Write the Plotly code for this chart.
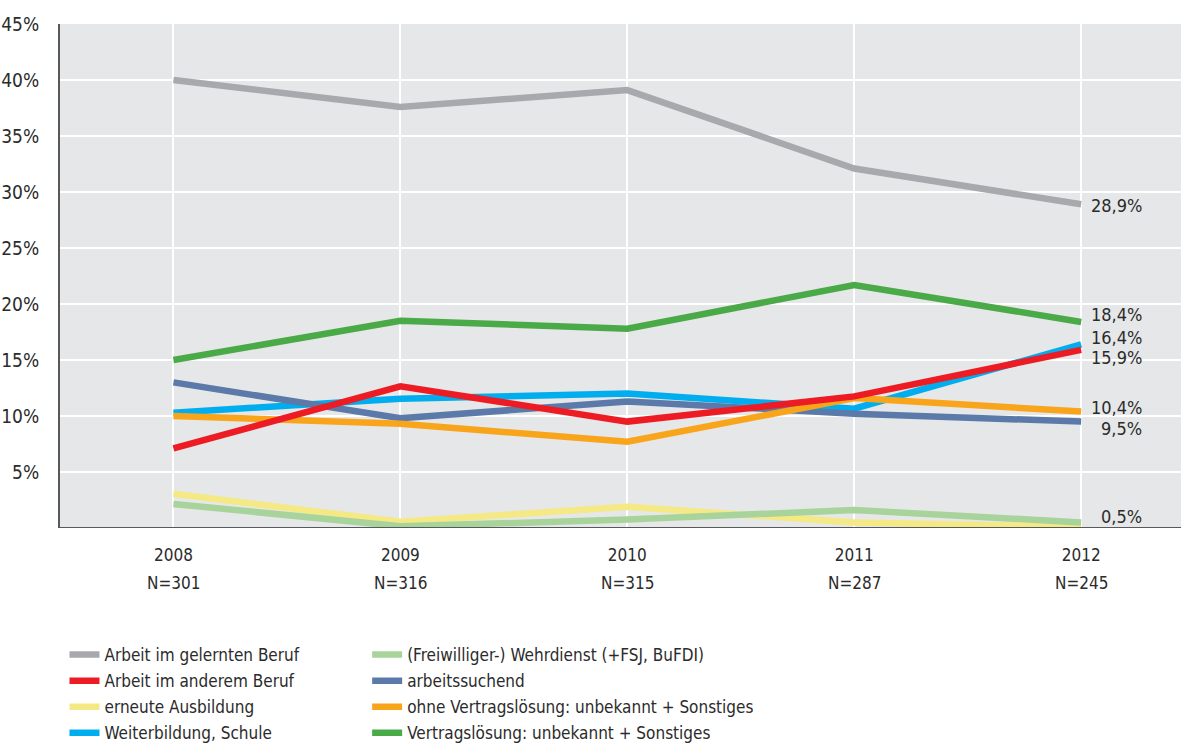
import plotly.graph_objects as go

years = ["2008", "2009", "2010", "2011", "2012"]
n_labels = ["N=301", "N=316", "N=315", "N=287", "N=245"]

s_gelernt = [40.0, 37.6, 39.1, 32.1, 28.9]
s_anderer = [7.1, 12.65, 9.5, 11.75, 15.9]
s_erneute = [3.05, 0.55, 1.9, 0.5, 0.1]
s_weiter = [10.3, 11.55, 12.0, 10.65, 16.4]
s_wehr = [2.15, 0.15, 0.75, 1.6, 0.5]
s_suchend = [13.0, 9.8, 11.3, 10.2, 9.5]
s_ohne = [10.0, 9.3, 7.7, 11.6, 10.4]
s_vertrag = [15.0, 18.5, 17.8, 21.7, 18.4]

names = [
    "Arbeit im gelernten Beruf",
    "Arbeit im anderem Beruf",
    "erneute Ausbildung",
    "Weiterbildung, Schule",
    "(Freiwilliger-) Wehrdienst (+FSJ, BuFDI)",
    "arbeitssuchend",
    "ohne Vertragslösung: unbekannt + Sonstiges",
    "Vertragslösung: unbekannt + Sonstiges",
]
series = [s_gelernt, s_anderer, s_erneute, s_weiter, s_wehr, s_suchend, s_ohne, s_vertrag]
colors = ["#a7a9ac", "#ed1c24", "#f4e985", "#00aeef", "#a8d39b", "#5b7aa9", "#f8a51c", "#49aa47"]
legends = ["legend", "legend", "legend", "legend", "legend2", "legend2", "legend2", "legend2"]

# drawing order (index into the lists above)
draw_order = [0, 2, 4, 3, 5, 6, 1, 7]

end_labels = ["28,9%", "18,4%", "16,4%", "15,9%", "10,4%", "9,5%", "0,5%"]
end_values = [28.9, 18.4, 16.4, 15.9, 10.4, 9.5, 0.5]
end_shift = [-1, 7, 7, -8, 4, -7, 6]

FONT = "DejaVu Sans Condensed, Liberation Sans Narrow, Arial Narrow, sans-serif"
TXT = "#2b2b2b"

fig = go.Figure()
xs = list(range(len(years)))
for i in draw_order:
    fig.add_trace(go.Scatter(
        x=xs, y=series[i], mode="lines", name=names[i],
        line=dict(color=colors[i], width=6.5),
        legend=legends[i], legendrank=i, legendgroup=names[i],
        hoverinfo="skip",
    ))

for t, v, s in zip(end_labels, end_values, end_shift):
    fig.add_annotation(x=4, y=v, xref="x", yref="y", text=t, showarrow=False,
                       xanchor="right", yanchor="middle", xshift=63, yshift=s,
                       font=dict(family=FONT, size=18, color=TXT))

for i, n in enumerate(n_labels):
    fig.add_annotation(x=i, y=0, xref="x", yref="y", text=n, showarrow=False,
                       xanchor="center", yanchor="middle", yshift=-55,
                       font=dict(family=FONT, size=17, color=TXT))

fig.update_layout(
    width=1181, height=745,
    margin=dict(l=60, r=0, t=24, b=217),
    paper_bgcolor="white",
    plot_bgcolor="#e6e7e8",
    font=dict(family=FONT, size=17, color=TXT),
    xaxis=dict(
        range=[-0.5, 4.44], tickvals=xs, ticktext=years,
        showgrid=True, gridcolor="white", gridwidth=2,
        zeroline=False, showline=False, ticks="", ticklabelstandoff=15,
        tickfont=dict(family=FONT, size=17, color=TXT),
    ),
    yaxis=dict(
        range=[0, 45], tickvals=[5, 10, 15, 20, 25, 30, 35, 40, 45],
        ticktext=["5%", "10%", "15%", "20%", "25%", "30%", "35%", "40%", "45%"],
        showgrid=True, gridcolor="white", gridwidth=2,
        zeroline=False, showline=True, linecolor="#58595b", linewidth=2,
        ticks="", ticklabelstandoff=15,
        tickfont=dict(family=FONT, size=19, color=TXT),
    ),
    legend=dict(
        x=0.004, xref="paper", y=0.145, yref="container", xanchor="left", yanchor="top",
        orientation="v", traceorder="grouped", tracegroupgap=1,
        font=dict(family=FONT, size=17, color=TXT), bgcolor="rgba(0,0,0,0)",
        itemwidth=30,
    ),
    legend2=dict(
        x=0.274, xref="paper", y=0.145, yref="container", xanchor="left", yanchor="top",
        orientation="v", traceorder="grouped", tracegroupgap=1,
        font=dict(family=FONT, size=17, color=TXT), bgcolor="rgba(0,0,0,0)",
        itemwidth=30,
    ),
    showlegend=True,
)

# bottom axis line
fig.add_shape(type="line", xref="paper", yref="y", x0=0, x1=1, y0=0, y1=0,
              line=dict(color="#58595b", width=2))

fig.write_html("out.html")
